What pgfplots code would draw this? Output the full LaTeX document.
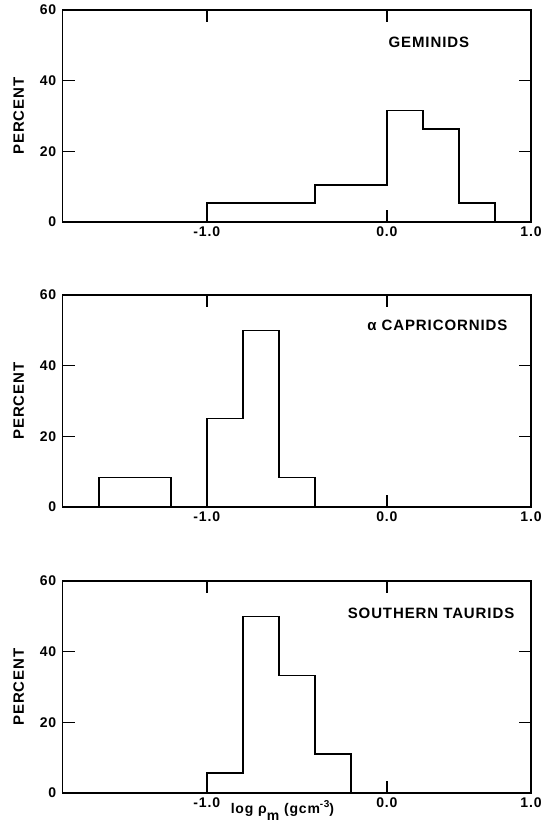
\documentclass[border=0pt]{standalone}
\usepackage{fontspec}
\setmainfont{Liberation Sans}[LetterSpace=6]
\usepackage{pgfplots}
\pgfplotsset{compat=1.18}
\pgfplotsset{
  panel/.style={
    scale only axis, width=468.3pt, height=212pt,
    anchor=south west, clip=false,
    xmin=-1.8, xmax=0.8, ymin=0, ymax=60,
    xtick={-1,0,0.8}, xticklabels={-1.0,0.0,1.0},
    ytick={0,20,40,60}, yticklabels={0,20,40,60},
    tick align=inside, major tick length=12pt,
    axis line style={line width=1.5pt},
    every tick/.style={line width=1.5pt, black},
    ticklabel style={font=\fontsize{14}{14}\selectfont\bfseries},
    yticklabel style={xshift=-3pt},
    xticklabel style={yshift=-1pt},
    ylabel={PERCENT},
    every axis y label/.style={at={(axis description cs:-0.094,0.5)}, rotate=90, anchor=center,
      font=\fontsize{15}{15}\selectfont\bfseries},
  },
  hist/.style={const plot, line width=1.6pt, black, mark=none},
}
\begin{document}
\begin{tikzpicture}
\path[use as bounding box] (0,0) rectangle (547pt,833pt);
% Geminids
\begin{axis}[panel, at={(62.7pt,611pt)}]
\addplot[hist] coordinates {(-1.8,0) (-1.0,5.3) (-0.8,5.3) (-0.6,5.3) (-0.4,10.5) (-0.2,10.5) (0.0,31.6) (0.2,26.3) (0.4,5.3) (0.6,0) (0.8,0)};
\node[font=\fontsize{15}{15}\selectfont\bfseries] at (axis cs:0.233,50.8) {GEMINIDS};
\end{axis}
% alpha Capricornids
\begin{axis}[panel, at={(62.7pt,326pt)}]
\addplot[hist] coordinates {(-1.8,0) (-1.6,8.3) (-1.4,8.3) (-1.2,0) (-1.0,25) (-0.8,50) (-0.6,8.3) (-0.4,0) (0.8,0)};
\node[font=\fontsize{15}{15}\selectfont\bfseries] at (axis cs:0.28,51.3) {α CAPRICORNIDS};
\end{axis}
% Southern Taurids
\begin{axis}[panel, at={(62.7pt,40pt)}]
\addplot[hist] coordinates {(-1.8,0) (-1.0,5.6) (-0.8,50) (-0.6,33.3) (-0.4,11.1) (-0.2,0) (0.8,0)};
\node[font=\fontsize{15}{15}\selectfont\bfseries] at (axis cs:0.245,50.8) {SOUTHERN TAURIDS};
\node[font=\fontsize{14}{14}\selectfont\bfseries, anchor=base] at (axis cs:-0.58,-5.8) {log ρ\raisebox{-7pt}{m} (gcm\raisebox{6pt}{\fontsize{10}{10}\selectfont -3})};
\end{axis}
\end{tikzpicture}
\end{document}
